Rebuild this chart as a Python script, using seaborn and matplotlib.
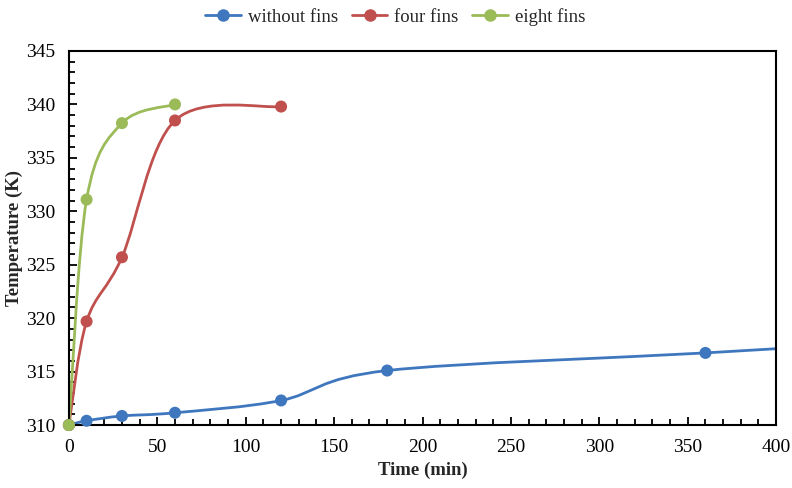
import numpy as np
import pandas as pd
import seaborn as sns
import matplotlib.pyplot as plt
from matplotlib.path import Path
from matplotlib.patches import PathPatch
from matplotlib.lines import Line2D
from matplotlib.ticker import MultipleLocator

# Data
time_none = [0, 10, 30, 60, 120, 180, 360, 480]
temp_none = [310.0, 310.4, 310.85, 311.15, 312.3, 315.1, 316.75, 317.95]
time_four = [0, 10, 30, 60, 120]
temp_four = [310.0, 319.7, 325.7, 338.5, 339.8]
time_eight = [0, 10, 30, 60]
temp_eight = [310.0, 331.1, 338.25, 340.0]

labels = ['without fins', 'four fins', 'eight fins']
colors = ['#3F77BE', '#C0504D', '#9BBB59']

sns.set_theme(style='white')
plt.rcParams['font.family'] = ['Liberation Serif', 'DejaVu Serif']

fig = plt.figure(figsize=(7.92, 4.88), dpi=100)
ax = fig.add_axes([0.087, 0.129, 0.893, 0.7665])


def smooth_path(x, y):
    # Excel-like smoothed line: cubic Bezier with Catmull-Rom control points
    x = np.asarray(x, float)
    y = np.asarray(y, float)
    verts = [(x[0], y[0])]
    codes = [Path.MOVETO]
    n = len(x)
    for i in range(n - 1):
        p0 = np.array([x[max(i - 1, 0)], y[max(i - 1, 0)]])
        p1 = np.array([x[i], y[i]])
        p2 = np.array([x[i + 1], y[i + 1]])
        p3 = np.array([x[min(i + 2, n - 1)], y[min(i + 2, n - 1)]])
        c1 = p1 + (p2 - p0) / 6.0
        c2 = p2 - (p3 - p1) / 6.0
        verts += [tuple(c1), tuple(c2), tuple(p2)]
        codes += [Path.CURVE4] * 3
    return Path(verts, codes)


series = [(time_none, temp_none), (time_four, temp_four), (time_eight, temp_eight)]
for (t, v), lab, col in zip(series, labels, colors):
    patch = PathPatch(smooth_path(t, v), facecolor='none', edgecolor=col, lw=2.0)
    ax.add_patch(patch)
    df = pd.DataFrame({'t': t, 'v': v})
    df = df[df['t'] <= 400]
    sns.scatterplot(data=df, x='t', y='v', color=col, s=75, edgecolor='none',
                    ax=ax, clip_on=False, zorder=3, legend=False)

ax.set_xlim(0, 400)
ax.set_ylim(310, 345)
ax.xaxis.set_major_locator(MultipleLocator(50))
ax.xaxis.set_minor_locator(MultipleLocator(10))
ax.yaxis.set_major_locator(MultipleLocator(5))
ax.yaxis.set_minor_locator(MultipleLocator(1))
ax.tick_params(which='both', direction='in', bottom=True, left=True,
               top=False, right=False, colors='black', labelsize=14)
ax.tick_params(axis='y', which='major', length=6, width=1.3, pad=10)
ax.tick_params(axis='x', which='major', length=6, width=1.3, pad=10)
ax.tick_params(which='minor', length=4, width=1.3)
for s in ax.spines.values():
    s.set_color('black')
    s.set_linewidth(1.5)

ax.set_xlabel('Time (min)', fontsize=13.5, fontweight='bold')
ax.set_ylabel('Temperature (K)', fontsize=13.5, fontweight='bold')
ax.xaxis.set_label_coords(0.5, -0.097)
ax.yaxis.set_label_coords(-0.065, 0.5)

handles = [Line2D([0], [0], color=c, lw=2.0, marker='o', markersize=8)
           for c in colors]
fig.legend(handles, labels, loc='upper center', ncol=3, frameon=False,
           bbox_to_anchor=(0.499, 1.018), fontsize=13.5, handlelength=1.9,
           columnspacing=0.75, handletextpad=0.35)

fig.savefig('out.png', dpi=100)
